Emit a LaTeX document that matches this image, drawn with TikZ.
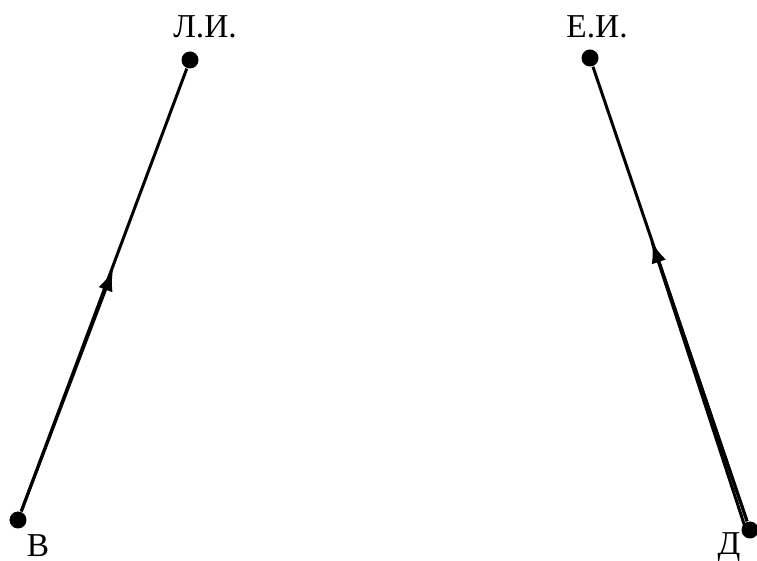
\documentclass[tikz,border=0pt]{standalone}
\usepackage{fontspec}
\setmainfont{Liberation Serif}
\usepackage{tikz}
\usetikzlibrary{arrows.meta}

\begin{document}
\begin{tikzpicture}[
  dot/.style={circle,fill=black,inner sep=0pt,minimum size=0.17cm},
  lbl/.style={inner sep=0pt,font=\fontsize{9.5}{11}\selectfont},
  edge/.style={line width=0.85pt},
  tip/.style={edge,-{Latex[length=0.21cm,width=0.15cm]}}
]
\useasboundingbox (0,0) rectangle (7.57,-5.61);

% вершины
\node[dot] (B) at (0.18,-5.20) {};
\node[dot] (LI) at (1.90,-0.60) {};
\node[dot] (EI) at (5.90,-0.58) {};
\node[dot] (D) at (7.50,-5.30) {};

% подписи
\node[lbl] (Bl) at (0.38,-5.46) {В};
\node[lbl] (LIl) at (2.05,-0.27) {Л.И.};
\node[lbl] (EIl) at (5.97,-0.27) {Е.И.};
\node[lbl] (Dl) at (7.29,-5.47) {Д};

% середины рёбер
\coordinate (Bm) at (1.13,-2.70);
\coordinate (Dm) at (6.52,-2.42);
\coordinate (D2) at (7.45,-5.27);

% рёбра
\draw[edge] (B)--(LI);
\draw[tip] (B)--(Bm);

\draw[edge] (D)--(EI);
\draw[tip] (D)--(Dm);
\draw[edge] (D2)--(Dm);
\end{tikzpicture}
\end{document}
